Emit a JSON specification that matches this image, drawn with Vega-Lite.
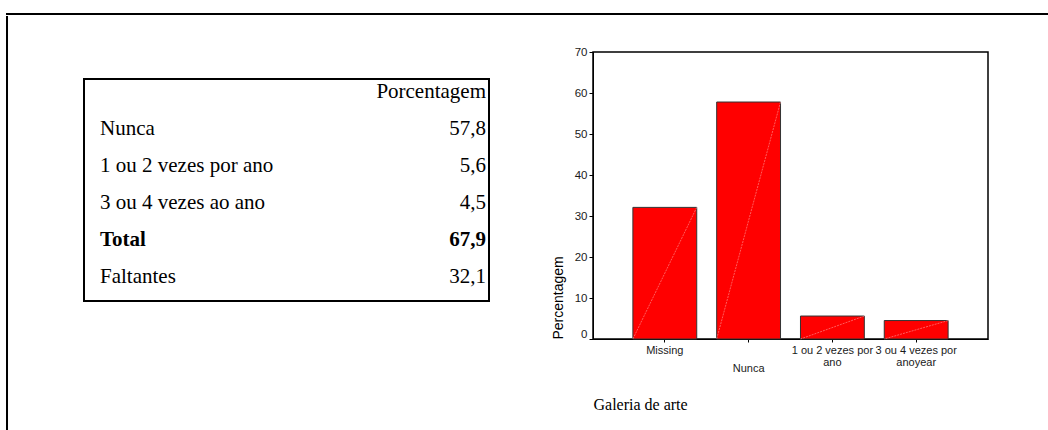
{
  "$schema": "https://vega.github.io/schema/vega-lite/v6.json",
  "padding": {"left": 6, "top": 13, "right": 0, "bottom": 0},
  "background": "white",
  "config": {
    "view": {"stroke": null},
    "font": "Liberation Sans"
  },
  "spacing": 0,
  "vconcat": [
    {
      "width": 1040,
      "height": 0.01,
      "view": {"stroke": "black", "strokeWidth": 2},
      "data": {"values": []},
      "mark": "point"
    },
    {
      "spacing": 74,
      "hconcat": [
        {
          "width": 0.01,
          "height": 412,
          "view": {"stroke": "black", "strokeWidth": 2},
          "data": {"values": []},
          "mark": "point"
        },
        {
          "spacing": 60,
          "hconcat": [
            {
              "spacing": 0,
              "vconcat": [
                {
                  "width": 10,
                  "height": 61,
                  "data": {"values": []},
                  "mark": "point"
                },
                {
                  "width": 405,
                  "height": 222,
                  "view": {"stroke": "black", "strokeWidth": 2},
                  "data": {"values": [
                    {"order": 0, "label": "", "value": "Porcentagem", "bold": false},
                    {"order": 1, "label": "Nunca", "value": "57,8", "bold": false},
                    {"order": 2, "label": "1 ou 2 vezes por ano", "value": "5,6", "bold": false},
                    {"order": 3, "label": "3 ou 4 vezes ao ano", "value": "4,5", "bold": false},
                    {"order": 4, "label": "Total", "value": "67,9", "bold": true},
                    {"order": 5, "label": "Faltantes", "value": "32,1", "bold": false}
                  ]},
                  "encoding": {
                    "y": {"field": "order", "type": "ordinal", "axis": null, "scale": {"type": "point", "padding": 0.5}}
                  },
                  "layer": [
                    {
                      "transform": [{"filter": "!datum.bold"}],
                      "mark": {"type": "text", "align": "left", "baseline": "alphabetic", "font": "Liberation Serif", "fontSize": 21, "color": "black", "dx": 16},
                      "encoding": {
                        "x": {"datum": "label", "type": "nominal", "axis": null, "scale": {"type": "point", "domain": ["label", "value"], "padding": 0}},
                        "text": {"field": "label"}
                      }
                    },
                    {
                      "transform": [{"filter": "datum.bold"}],
                      "mark": {"type": "text", "align": "left", "baseline": "alphabetic", "font": "Liberation Serif", "fontSize": 21, "fontWeight": "bold", "color": "black", "dx": 16},
                      "encoding": {
                        "x": {"datum": "label", "type": "nominal", "axis": null},
                        "text": {"field": "label"}
                      }
                    },
                    {
                      "transform": [{"filter": "!datum.bold"}],
                      "mark": {"type": "text", "align": "right", "baseline": "alphabetic", "font": "Liberation Serif", "fontSize": 21, "color": "black", "dx": -3},
                      "encoding": {
                        "x": {"datum": "value", "type": "nominal", "axis": null},
                        "text": {"field": "value"}
                      }
                    },
                    {
                      "transform": [{"filter": "datum.bold"}],
                      "mark": {"type": "text", "align": "right", "baseline": "alphabetic", "font": "Liberation Serif", "fontSize": 21, "fontWeight": "bold", "color": "black", "dx": -3},
                      "encoding": {
                        "x": {"datum": "value", "type": "nominal", "axis": null},
                        "text": {"field": "value"}
                      }
                    }
                  ]
                }
              ]
            },
            {
              "spacing": 0,
              "vconcat": [
                {
                  "width": 10,
                  "height": 28,
                  "data": {"values": []},
                  "mark": "point"
                },
                {
                  "width": 395,
                  "height": 287,
                  "view": {"stroke": "black", "strokeWidth": 1.5},
                  "data": {"values": [
                    {"cat": "Missing", "pct": 32.1},
                    {"cat": "Nunca", "pct": 57.8},
                    {"cat": "1 ou 2 vezes por ano", "pct": 5.6},
                    {"cat": "3 ou 4 vezes por anoyear", "pct": 4.5}
                  ]},
                  "layer": [
                    {
                      "mark": {"type": "bar", "fill": "#ff0000", "stroke": "#333333", "strokeWidth": 1},
                      "encoding": {
                        "x": {
                          "field": "cat", "type": "nominal", "sort": null,
                          "scale": {"paddingInner": 0.238, "paddingOuter": 0.476},
                          "axis": {
                            "title": "Galeria de arte",
                            "titleFont": "Liberation Serif", "titleFontSize": 16, "titleFontWeight": "normal", "titleColor": "black",
                            "titleAnchor": "start", "titleAlign": "left", "titlePadding": 23,
                            "labelAngle": 0, "labelFont": "Liberation Sans", "labelFontSize": 11, "labelColor": "#1a1a1a",
                            "labelLineHeight": 12, "labelBaseline": "top", "labelOverlap": false, "labelBound": false,
                            "labelExpr": "datum.value == '1 ou 2 vezes por ano' ? ['1 ou 2 vezes por', 'ano'] : datum.value == '3 ou 4 vezes por anoyear' ? ['3 ou 4 vezes por', 'anoyear'] : datum.value",
                            "labelPadding": {"condition": {"test": "datum.value == 'Nunca'", "value": 20}, "value": 2},
                            "tickSize": 3, "tickColor": "black", "domainColor": "black"
                          }
                        },
                        "y": {
                          "field": "pct", "type": "quantitative",
                          "scale": {"domain": [0, 70], "nice": false},
                          "axis": {
                            "title": "Percentagem",
                            "titleFont": "Liberation Sans", "titleFontSize": 14, "titleFontWeight": "normal", "titleColor": "black",
                            "titleAnchor": "start", "titlePadding": 9,
                            "values": [0, 10, 20, 30, 40, 50, 60, 70],
                            "grid": false, "tickSize": 4, "labelPadding": 2,
                            "labelFont": "Liberation Sans", "labelFontSize": 11.5, "labelColor": "#1a1a1a",
                            "labelBaseline": {"condition": {"test": "datum.value == 0", "value": "bottom"}, "value": "middle"},
                            "tickColor": "black", "domainColor": "black"
                          }
                        }
                      }
                    },
                    {
                      "mark": {"type": "rule", "stroke": "#ff9a9a", "strokeWidth": 0.6, "strokeDash": [2, 1]},
                      "encoding": {
                        "x": {"field": "cat", "type": "nominal", "sort": null, "bandPosition": 1},
                        "y": {"field": "pct", "type": "quantitative"},
                        "x2": {"field": "cat", "bandPosition": 0},
                        "y2": {"datum": 0}
                      }
                    }
                  ]
                }
              ]
            }
          ]
        }
      ]
    }
  ]
}
